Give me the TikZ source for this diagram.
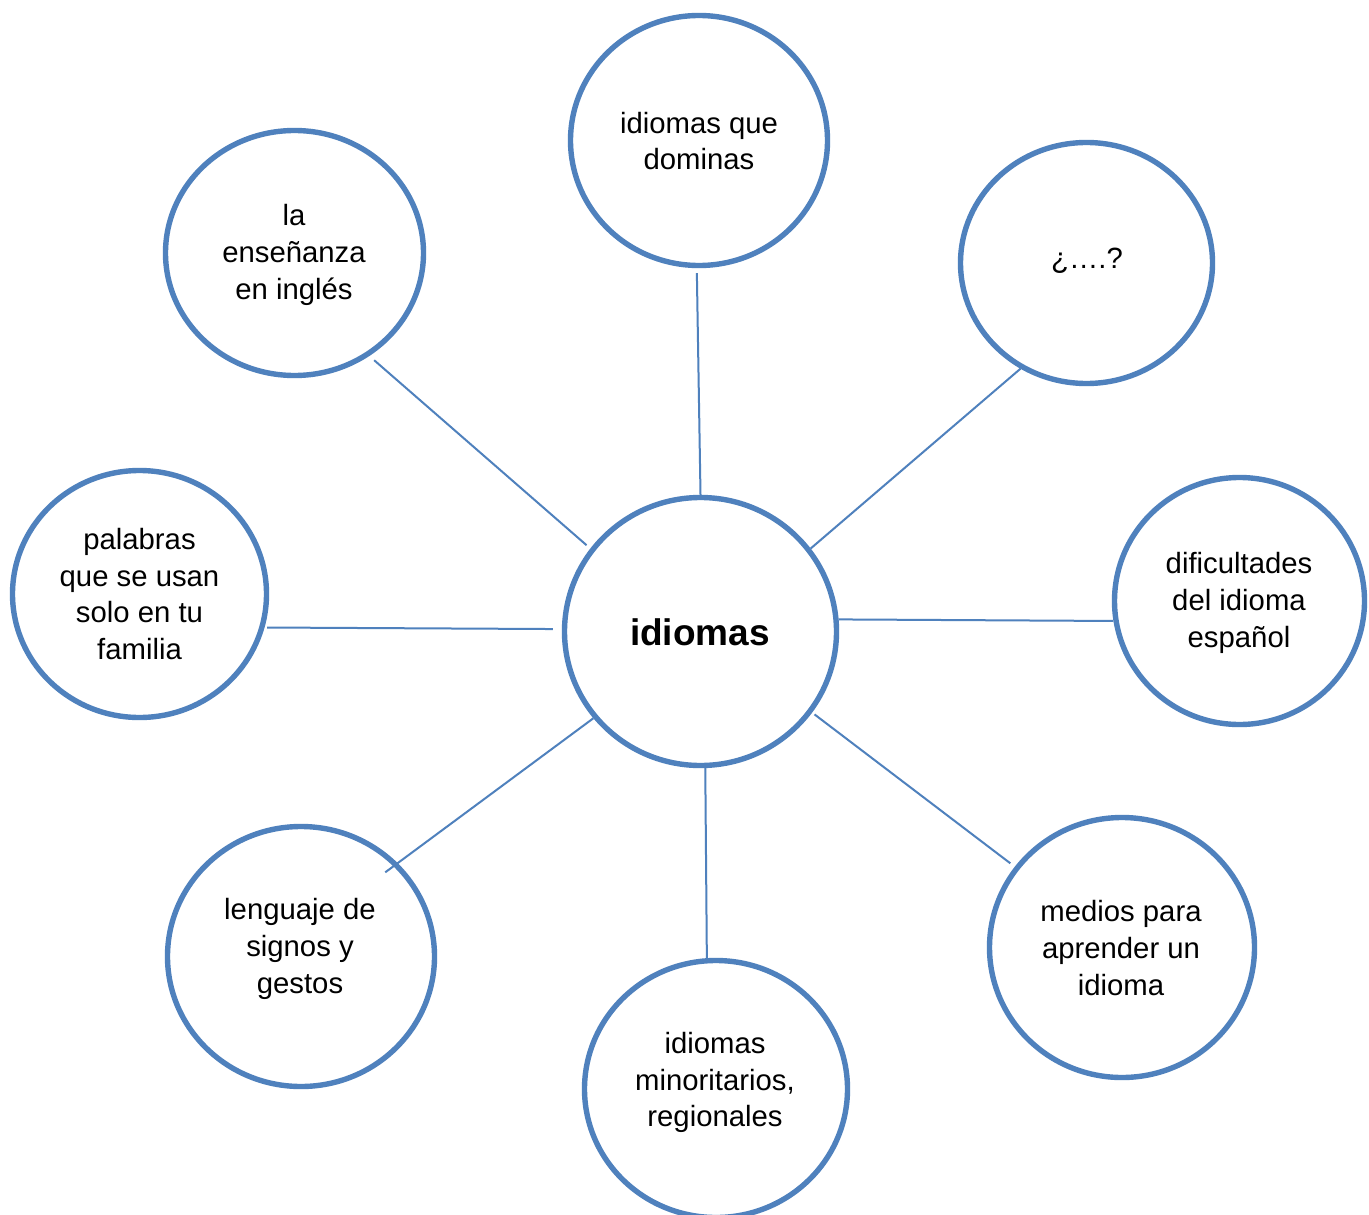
\documentclass[tikz,border=0pt]{standalone}
\usepackage{fontspec}
\setmainfont{Liberation Sans}
\usetikzlibrary{shapes.geometric}
\definecolor{bblue}{RGB}{79,129,189}
\begin{document}
\begin{tikzpicture}[x=0.5pt,y=-0.5pt,
  bubble/.style={draw=bblue, line width=2.7pt, ellipse, inner sep=0pt},
  link/.style={draw=bblue, line width=1pt},
  txt/.style={align=center, font=\fontsize{14.65pt}{18.3pt}\selectfont, inner sep=0pt},
  ]
\useasboundingbox (0,0) rectangle (1369,1214);
\fill[white] (0,0) rectangle (1369,1214);
\clip (0,0) rectangle (1369,1214);

\node[bubble, minimum width=136pt, minimum height=134pt] (c) at (700.5,631.5) {};
\node[bubble, minimum width=128.5pt, minimum height=125pt] (t) at (699,140.5) {};
\node[bubble, minimum width=129pt, minimum height=122.5pt] (tl) at (294.5,253) {};
\node[bubble, minimum width=126pt, minimum height=120.5pt] (tr) at (1086.5,263) {};
\node[bubble, minimum width=127pt, minimum height=123.5pt] (l) at (139.5,594) {};
\node[bubble, minimum width=125pt, minimum height=123.5pt] (r) at (1239.5,601) {};
\node[bubble, minimum width=131.5pt, minimum height=128.5pt] (b) at (716,1089) {};
\node[bubble, minimum width=132.5pt, minimum height=130pt] (br) at (1122,947.5) {};
\node[bubble, minimum width=133.5pt, minimum height=130pt] (bl) at (301,956.5) {};

\node[txt, font=\fontsize{18.5pt}{22pt}\selectfont\bfseries] (ct) at (700,632) {idiomas};
\node[txt] (tt) at (699,141) {idiomas que\\dominas};
\node[txt] (tlt) at (294,255) {la\\enseñanza\\en inglés};
\node[txt] (trt) at (1087,261) {¿….?};
\node[txt] (lt) at (139.5,594) {palabras\\que se usan\\solo en tu\\familia};
\node[txt] (rt) at (1239,603) {dificultades\\del idioma\\español};
\node[txt] (bt) at (715,1082.5) {idiomas\\minoritarios,\\regionales};
\node[txt] (brt) at (1121,948) {medios para\\aprender un\\idioma};
\node[txt] (blt) at (300,949) {lenguaje de\\signos y\\gestos};

\draw[link, shorten >=2.5pt] (c.90) -- (t.269);
\draw[link, shorten <=2.5pt, shorten >=3.2pt] (c.143) -- (tl.306);
\draw[link] (c.37) -- (tr.238);
\draw[link] (c.5) -- (r.189);
\draw[link, shorten <=4.5pt, shorten >=1.3pt] (c.179) -- (l.345);
\draw[link, shorten >=-7.75pt] (c.219) -- (bl.44);
\draw[link] (c.272) -- (b.94);
\draw[link, shorten <=1.5pt, shorten >=2.8pt] (c.324) -- (br.143);
\end{tikzpicture}
\end{document}
